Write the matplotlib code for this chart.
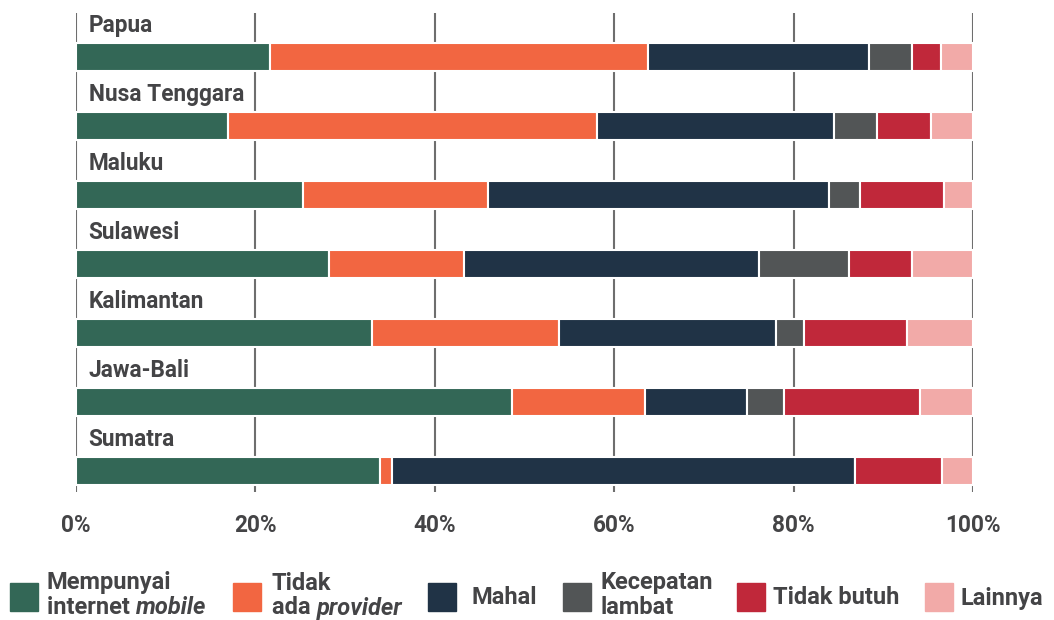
import numpy as np
import matplotlib.pyplot as plt
from matplotlib.patches import Rectangle

# data (percent of respondents)
regions = ['Papua', 'Nusa Tenggara', 'Maluku', 'Sulawesi', 'Kalimantan', 'Jawa-Bali', 'Sumatra']
mobile   = [21.6, 16.9, 25.3, 28.2, 33.0, 48.6, 33.9]
provider = [42.2, 41.2, 20.6, 15.1, 20.8, 14.8, 1.3]
mahal    = [24.6, 26.4, 38.0, 32.8, 24.2, 11.4, 51.6]
lambat   = [4.8, 4.8, 3.5, 10.1, 3.2, 4.1, 0.0]
butuh    = [3.2, 6.0, 9.4, 7.0, 11.4, 15.2, 9.7]
lainnya  = [3.6, 4.7, 3.2, 6.8, 7.4, 5.9, 3.5]

series = [mobile, provider, mahal, lambat, butuh, lainnya]
colors = ['#336756', '#F26641', '#203346', '#525556', '#C0283A', '#F2AAA8']
ticks = [0, 20, 40, 60, 80, 100]
tick_labels = ['0%', '20%', '40%', '60%', '80%', '100%']

W, H = 1054, 620
txt = '#444446'
plt.rcParams['font.family'] = ['Roboto', 'DejaVu Sans']

fig = plt.figure(figsize=(W / 100, H / 100), dpi=100)
ax = fig.add_axes([76 / W, 1 - 492 / H, 897 / W, (492 - 13) / H])

y = np.arange(len(regions))
left = np.zeros(len(regions))
for vals, c in zip(series, colors):
    ax.barh(y, vals, left=left, height=0.40, color=c, edgecolor='white', linewidth=1.5, zorder=3)
    left += np.array(vals)

for t in ticks:
    ax.axvline(t, color='#6e6e6e', lw=1.5, zorder=1)

for i, r in enumerate(regions):
    ax.text(1.4, i - 0.46, r, fontsize=16.3, fontweight='bold', color=txt, va='center', ha='left', zorder=4)

ax.set_xlim(0, 100)
ax.set_ylim(6.30, -0.64)
ax.set_xticks(ticks)
ax.set_xticklabels(tick_labels, fontsize=16.3, fontweight='bold', color=txt)
ax.tick_params(axis='x', length=0, pad=16)
ax.set_yticks([])
for s in ax.spines.values():
    s.set_visible(False)

# legend drawn by hand at the bottom
def fx(px):
    return px / W

def fy(py):
    return 1 - py / H

legend = [
    (10, 47, 'Mempunyai', ('internet ', 'mobile')),
    (233, 272, 'Tidak', ('ada ', 'provider')),
    (428, 471, None, 'Mahal'),
    (563, 600, 'Kecepatan', ('lambat', None)),
    (737, 773, None, 'Tidak butuh'),
    (925, 961, None, 'Lainnya'),
]
kw = dict(fontsize=17, fontweight='bold', color=txt)
for (sx, tx, l1, l2), c in zip(legend, colors):
    fig.patches.append(Rectangle((fx(sx), fy(611)), 28 / W, 28 / H, transform=fig.transFigure,
                                 color=c, figure=fig))
    if l1 is None:
        fig.text(fx(tx), fy(598), l2, va='center', ha='left', **kw)
        continue
    fig.text(fx(tx), fy(583), l1, va='center', ha='left', **kw)
    plain, ital = l2
    t = fig.text(fx(tx), fy(608), plain, va='center', ha='left', **kw)
    if ital:
        ax.annotate(ital, xy=(1, 0), xycoords=t, va='bottom', ha='left',
                    style='italic', annotation_clip=False, **kw)

fig.savefig('out.png', dpi=100)
